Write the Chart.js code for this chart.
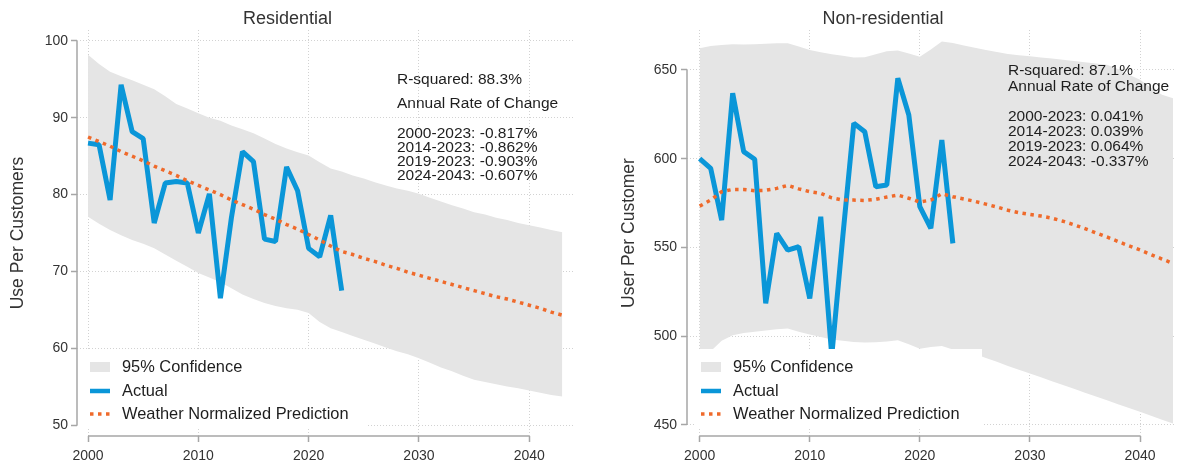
<!DOCTYPE html>
<html>
<head>
<meta charset="utf-8">
<script src="https://cdn.jsdelivr.net/npm/chart.js@4.4.1/dist/chart.umd.min.js"></script>
<style>
  body { margin: 0; background: #fff; }
  #wrap { position: relative; width: 1177px; height: 464px; }
  canvas { position: absolute; top: 0; }
</style>
</head>
<body>
<div id="wrap">
  <canvas id="resChart" width="590" height="464" style="left:0"></canvas>
  <canvas id="nonresChart" width="587" height="464" style="left:590px"></canvas>
</div>
<script>
// history and forecast horizons
const years = [2000, 2001, 2002, 2003, 2004, 2005, 2006, 2007, 2008, 2009, 2010, 2011,
  2012, 2013, 2014, 2015, 2016, 2017, 2018, 2019, 2020, 2021, 2022, 2023]
const allYears = [2000, 2001, 2002, 2003, 2004, 2005, 2006, 2007, 2008, 2009, 2010, 2011,
  2012, 2013, 2014, 2015, 2016, 2017, 2018, 2019, 2020, 2021, 2022, 2023,
  2024, 2025, 2026, 2027, 2028, 2029, 2030, 2031, 2032, 2033, 2034, 2035,
  2036, 2037, 2038, 2039, 2040, 2041, 2042, 2043]
const xTicks = [2000, 2010, 2020, 2030, 2040]

// residential
const resActual = [86.7, 86.5, 79.3, 94.3, 88.2, 87.3, 76.3, 81.5, 81.7, 81.5, 75.0, 80.1,
  66.5, 77.0, 85.6, 84.3, 74.2, 73.9, 83.6, 80.5, 73.0, 71.9, 77.3, 67.5]
const resPredicted = [87.5, 86.9, 86.3, 85.6, 85.0, 84.4, 83.7, 83.1, 82.5, 81.8, 81.2, 80.6,
  80.0, 79.3, 78.7, 78.1, 77.4, 76.8, 76.1, 75.5, 74.8, 74.1, 73.3, 72.6,
  72.2, 71.7, 71.3, 70.8, 70.4, 69.9, 69.5, 69.1, 68.7, 68.3, 67.9, 67.5,
  67.1, 66.7, 66.4, 66.0, 65.6, 65.2, 64.7, 64.3]
const resUpper = [98.2, 97.0, 96.0, 95.4, 94.9, 94.3, 93.7, 92.8, 91.8, 91.2, 90.6, 90.0,
  89.6, 89.0, 88.5, 88.0, 87.3, 86.6, 86.0, 85.5, 85.1, 84.2, 83.4, 83.0,
  82.5, 82.1, 81.6, 81.2, 80.8, 80.5, 80.1, 79.6, 79.1, 78.6, 78.2, 77.7,
  77.4, 77.0, 76.7, 76.3, 76.0, 75.7, 75.4, 75.1]
const resLower = [77.1, 76.2, 75.4, 74.7, 74.1, 73.6, 73.0, 72.2, 71.4, 70.6, 69.8, 69.2,
  68.6, 67.8, 67.0, 66.4, 65.9, 65.5, 65.2, 65.0, 64.6, 63.4, 62.6, 62.1,
  61.6, 61.1, 60.6, 60.1, 59.6, 59.2, 58.7, 58.1, 57.5, 57.0, 56.4, 55.9,
  55.6, 55.3, 55.0, 54.8, 54.5, 54.2, 53.9, 53.7]
const resTicks = [50, 60, 70, 80, 90, 100]
const resStats = ['R-squared: 88.3%', 'Annual Rate of Change',
  '2000-2023: -0.817%', '2014-2023: -0.862%', '2019-2023: -0.903%', '2024-2043: -0.607%']

// non-residential
const nonresActual = [600.0, 594.6, 565.4, 636.9, 604.0, 599.7, 518.5, 558.0, 548.5, 550.4, 521.3, 567.3,
  489.0, 556.0, 620.0, 615.2, 584.2, 585.2, 645.3, 624.6, 573.0, 560.8, 610.5, 552.3]
const nonresPredicted = [573.3, 576.7, 581.4, 582.7, 582.7, 582.0, 582.2, 583.3, 585.0, 583.0, 581.4, 580.5,
  578.0, 576.7, 576.7, 576.5, 577.1, 578.4, 579.5, 577.7, 575.6, 576.7, 580.3, 578.6,
  577.3, 576.0, 574.4, 572.8, 571.0, 569.6, 568.6, 567.7, 566.5, 564.8, 562.8, 560.6,
  558.2, 555.9, 553.4, 550.9, 548.6, 546.0, 543.5, 541.0]
const nonresUpper = [662.2, 663.5, 664.1, 664.5, 664.4, 664.5, 664.7, 665.0, 665.0, 663.2, 661.3, 660.0,
  658.9, 658.0, 657.0, 657.2, 658.8, 660.5, 661.0, 659.2, 657.5, 661.5, 666.0, 665.2,
  663.8, 662.5, 661.3, 660.1, 659.0, 658.3, 657.7, 657.0, 656.4, 655.8, 655.1, 654.4,
  653.6, 652.9, 650.5, 647.3, 644.5, 640.0, 636.0, 634.0]
const nonresLower = [491.0, 491.5, 497.5, 500.5, 501.8, 502.5, 503.2, 504.0, 504.4, 502.5, 501.0, 499.5,
  498.2, 497.5, 496.8, 496.5, 496.6, 497.0, 497.8, 495.5, 493.0, 494.0, 494.5, 492.5,
  491.0, 490.0, 487.8, 485.6, 483.3, 481.1, 479.0, 476.9, 474.7, 472.5, 470.4, 468.2,
  466.0, 463.9, 461.7, 459.6, 457.4, 455.2, 453.0, 450.9]
const nonresTicks = [450, 500, 550, 600, 650]
const nonresStats = ['R-squared: 87.1%', 'Annual Rate of Change',
  '2000-2023: 0.041%', '2014-2023: 0.039%', '2019-2023: 0.064%', '2024-2043: -0.337%']

const legendLabels = ['95% Confidence', 'Actual', 'Weather Normalized Prediction']

const BAND = '#e5e5e5'
const BLUE = '#0a96d8'
const ORANGE = '#ef6a2b'
const FONT = '"Liberation Sans", Arial, sans-serif'

Chart.defaults.font.family = FONT
Chart.defaults.color = '#333'

const pts = (xs, ys) => xs.map((x, i) => ({ x: x, y: ys[i] }))

// axis lines that only run between the end ticks, stats text and an in-plot legend
const panelExtras = {
  id: 'panelExtras',
  afterDatasetsDraw(chart, args, opts) {
    const { ctx, chartArea, scales: { x, y } } = chart
    const xt = x.ticks, yt = y.ticks
    ctx.save()

    ctx.strokeStyle = '#a6a6a6'
    ctx.lineWidth = 1.5
    ctx.beginPath()
    ctx.moveTo(chartArea.left, y.getPixelForValue(yt[0].value))
    ctx.lineTo(chartArea.left, y.getPixelForValue(yt[yt.length - 1].value))
    ctx.moveTo(x.getPixelForValue(xt[0].value), chartArea.bottom)
    ctx.lineTo(x.getPixelForValue(xt[xt.length - 1].value), chartArea.bottom)
    ctx.stroke()

    ctx.fillStyle = '#1e1e1e'
    ctx.font = '15.5px ' + FONT
    ctx.textBaseline = 'middle'
    ctx.textAlign = 'left'
    opts.stats.forEach((line, i) => ctx.fillText(line, opts.statsX, opts.statsY[i]))

    const lg = opts.legend
    ctx.fillStyle = '#fff'
    ctx.fillRect(lg.left, lg.top, lg.width, lg.height)

    const sx = lg.swatchX
    ctx.fillStyle = BAND
    ctx.fillRect(sx, lg.rows[0] - 5, 20, 10)

    ctx.strokeStyle = BLUE
    ctx.lineWidth = 4.5
    ctx.beginPath()
    ctx.moveTo(sx, lg.rows[1])
    ctx.lineTo(sx + 20, lg.rows[1])
    ctx.stroke()

    ctx.strokeStyle = ORANGE
    ctx.lineWidth = 3.5
    ctx.setLineDash([3.5, 4.5])
    ctx.beginPath()
    ctx.moveTo(sx, lg.rows[2])
    ctx.lineTo(sx + 20, lg.rows[2])
    ctx.stroke()
    ctx.setLineDash([])

    ctx.fillStyle = '#1e1e1e'
    ctx.font = '16.4px ' + FONT
    legendLabels.forEach((t, i) => ctx.fillText(t, lg.textX, lg.rows[i]))
    ctx.restore()
  }
}

function buildChart(id, cfg) {
  const canvas = document.getElementById(id)
  return new Chart(canvas.getContext('2d'), {
    type: 'line',
    data: {
      datasets: [
        {
          label: legendLabels[2],
          data: pts(allYears, cfg.predicted),
          borderColor: ORANGE,
          borderWidth: 3.5,
          borderDash: [3.5, 4.5],
          borderCapStyle: 'butt',
          pointRadius: 0,
          fill: false
        },
        {
          label: legendLabels[1],
          data: pts(years, cfg.actual),
          borderColor: BLUE,
          borderWidth: 5,
          borderJoinStyle: 'bevel',
          pointRadius: 0,
          fill: false
        },
        {
          label: legendLabels[0],
          data: pts(allYears, cfg.upper),
          borderWidth: 0,
          borderColor: BAND,
          backgroundColor: BAND,
          pointRadius: 0,
          fill: '+1'
        },
        {
          label: 'lower',
          data: pts(allYears, cfg.lower),
          borderWidth: 0,
          borderColor: BAND,
          pointRadius: 0,
          fill: false
        }
      ]
    },
    options: {
      responsive: false,
      animation: false,
      layout: { padding: { left: 0, right: cfg.padRight, top: 0, bottom: 0 } },
      plugins: {
        legend: { display: false },
        tooltip: { enabled: false },
        title: {
          display: true,
          text: cfg.title,
          color: '#333',
          font: { size: 18, weight: 'normal' },
          padding: { top: 8, bottom: 0.4 }
        },
        panelExtras: cfg.extras
      },
      scales: {
        x: {
          type: 'linear',
          min: cfg.xMin,
          max: cfg.xMax,
          afterBuildTicks: s => { s.ticks = xTicks.map(v => ({ value: v })) },
          afterFit: s => { s.height = 28 },
          grid: { color: '#d2d2d2', tickColor: '#a6a6a6', tickLength: 6, tickWidth: 1.5, tickBorderDash: [] },
          border: { display: false, dash: [1, 2] },
          ticks: { color: '#333', padding: 6, maxRotation: 0, font: { size: 14 }, callback: v => String(v) }
        },
        y: {
          min: cfg.yMin,
          max: cfg.yMax,
          afterBuildTicks: s => { s.ticks = cfg.yTicks.map(v => ({ value: v })) },
          afterFit: s => { s.width = cfg.yWidth },
          grid: { color: '#d2d2d2', tickColor: '#a6a6a6', tickLength: 6, tickWidth: 1.5, tickBorderDash: [] },
          border: { display: false, dash: [1, 2] },
          ticks: { color: '#333', padding: cfg.yPad, font: { size: 14 }, callback: v => String(v) },
          title: {
            display: true,
            text: cfg.yTitle,
            color: '#333',
            font: { size: 17.5 },
            padding: { top: cfg.yTitlePad, bottom: 0 }
          }
        }
      }
    },
    plugins: [panelExtras]
  })
}

buildChart('resChart', {
  title: 'Residential',
  yTitle: 'Use Per Customers',
  actual: resActual, predicted: resPredicted, upper: resUpper, lower: resLower,
  yTicks: resTicks, yMin: 48.57, yMax: 101.43,
  xMin: 1999.0, xMax: 2044.15,
  yWidth: 77, yPad: 3, yTitlePad: 7.5, padRight: 15,
  extras: {
    stats: resStats, statsX: 397, statsY: [80, 104, 134, 148, 162, 176],
    legend: { left: 80, top: 351, width: 288, height: 77, swatchX: 90, textX: 122, rows: [367, 391, 414] }
  }
})

buildChart('nonresChart', {
  title: 'Non-residential',
  yTitle: 'User Per Customer',
  actual: nonresActual, predicted: nonresPredicted, upper: nonresUpper, lower: nonresLower,
  yTicks: nonresTicks, yMin: 443.8, yMax: 672.5,
  xMin: 1998.85, xMax: 2043.27,
  yWidth: 97, yPad: 4, yTitlePad: 29, padRight: 1,
  extras: {
    stats: nonresStats, statsX: 418, statsY: [71, 87, 117, 132, 147, 162],
    legend: { left: 106, top: 349, width: 286, height: 79, swatchX: 111, textX: 143, rows: [367, 391, 414] }
  }
})
</script>
</body>
</html>
